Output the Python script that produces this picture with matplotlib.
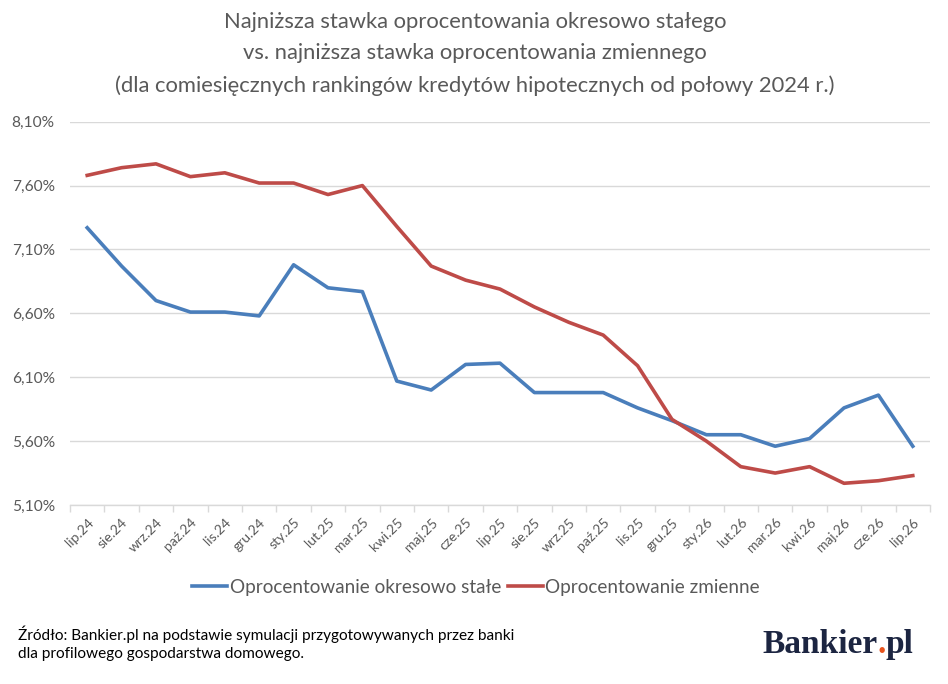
import matplotlib
matplotlib.use("Agg")
import matplotlib.pyplot as plt
from matplotlib.ticker import FixedLocator, FuncFormatter

categories = ["lip.24", "sie.24", "wrz.24", "paź.24", "lis.24", "gru.24",
              "sty.25", "lut.25", "mar.25", "kwi.25", "maj.25", "cze.25",
              "lip.25", "sie.25", "wrz.25", "paź.25", "lis.25", "gru.25",
              "sty.26", "lut.26", "mar.26", "kwi.26", "maj.26", "cze.26", "lip.26"]

fixed_rate = [7.27, 6.97, 6.70, 6.61, 6.61, 6.58, 6.98, 6.80, 6.77, 6.07,
              6.00, 6.20, 6.21, 5.98, 5.98, 5.98, 5.86, 5.76, 5.65, 5.65,
              5.56, 5.62, 5.86, 5.96, 5.56]

variable_rate = [7.68, 7.74, 7.77, 7.67, 7.70, 7.62, 7.62, 7.53, 7.60, 7.28,
                 6.97, 6.86, 6.79, 6.65, 6.53, 6.43, 6.19, 5.77, 5.60, 5.40,
                 5.35, 5.40, 5.27, 5.29, 5.33]

y_ticks = [5.10, 5.60, 6.10, 6.60, 7.10, 7.60, 8.10]

series_names = ["Oprocentowanie okresowo stałe", "Oprocentowanie zmienne"]

title_lines = ["Najniższa stawka oprocentowania okresowo stałego",
               "vs. najniższa stawka oprocentowania zmiennego",
               "(dla comiesięcznych rankingów kredytów hipotecznych od połowy 2024 r.)"]

source_text = ("Źródło: Bankier.pl na podstawie symulacji przygotowywanych przez banki\n"
               "dla profilowego gospodarstwa domowego.")

FONT = ["Lato", "DejaVu Sans"]
plt.rcParams["font.family"] = FONT

W, H = 948, 684
fig = plt.figure(figsize=(W / 100, H / 100), dpi=100)
fig.patch.set_facecolor("white")

ax = fig.add_axes([70 / W, 1 - 505 / H, (930 - 70) / W, (505 - 121.7) / H])

x = list(range(len(categories)))
blue = "#4A7EBB"
red = "#BE4B48"
ax.plot(x, fixed_rate, color=blue, lw=2.6, solid_joinstyle="round", label=series_names[0], zorder=3)
ax.plot(x, variable_rate, color=red, lw=2.6, solid_joinstyle="round", label=series_names[1], zorder=3)

ax.set_xlim(-0.5, len(categories) - 0.5)
ax.set_ylim(y_ticks[0], y_ticks[-1])
ax.set_yticks(y_ticks)
ax.yaxis.set_major_formatter(FuncFormatter(lambda v, p: f"{v:.2f}".replace(".", ",") + "%"))
ax.grid(axis="y", color="#D9D9D9", lw=1.0)
ax.set_axisbelow(True)

for s in ["top", "right", "left"]:
    ax.spines[s].set_visible(False)
ax.spines["bottom"].set_color("#D9D9D9")
ax.spines["bottom"].set_linewidth(1.0)

ax.tick_params(axis="y", length=0, pad=11, labelsize=11.2, labelcolor="#595959")
ax.set_xticks(x)
ax.set_xticklabels(categories, rotation=45, ha="right", va="top", rotation_mode="anchor",
                   fontsize=10, color="#595959")
ax.tick_params(axis="x", which="major", length=0, pad=8)
ax.xaxis.set_minor_locator(FixedLocator([i - 0.5 for i in range(len(categories) + 1)]))
ax.tick_params(axis="x", which="minor", length=5, color="#D9D9D9", width=1)

title_y = [22, 53, 86]
for line, ty in zip(title_lines, title_y):
    fig.text(475 / W, 1 - ty / H, line, ha="center", va="center",
             fontsize=15.8, color="#595959")

leg = fig.legend(loc="center", bbox_to_anchor=(476 / W, 1 - 587 / H), ncol=2, frameon=False,
                 fontsize=13.6, handlelength=1.85, handletextpad=0.15, columnspacing=0.35,
                 labelcolor="#595959")

fig.text(18 / W, 1 - 643 / H, source_text, ha="left", va="center", fontsize=11.1,
         color="#000000", linespacing=1.4)

navy = "#1C2541"
serif = ["Liberation Serif", "DejaVu Serif"]
t1 = fig.text(762 / W, 1 - 653 / H, "Bankier", ha="left", va="baseline",
              fontsize=24, fontweight="bold", family=serif, color=navy)
fig.canvas.draw()
bb = t1.get_window_extent()
t2 = fig.text(bb.x1 / W, 1 - 653 / H, ".", ha="left", va="baseline",
              fontsize=24, fontweight="bold", family=serif, color="#E8541E")
fig.canvas.draw()
bb2 = t2.get_window_extent()
fig.text(bb2.x1 / W, 1 - 653 / H, "pl", ha="left", va="baseline",
         fontsize=24, fontweight="bold", family=serif, color=navy)

fig.savefig("out.png", dpi=100, facecolor="white")
